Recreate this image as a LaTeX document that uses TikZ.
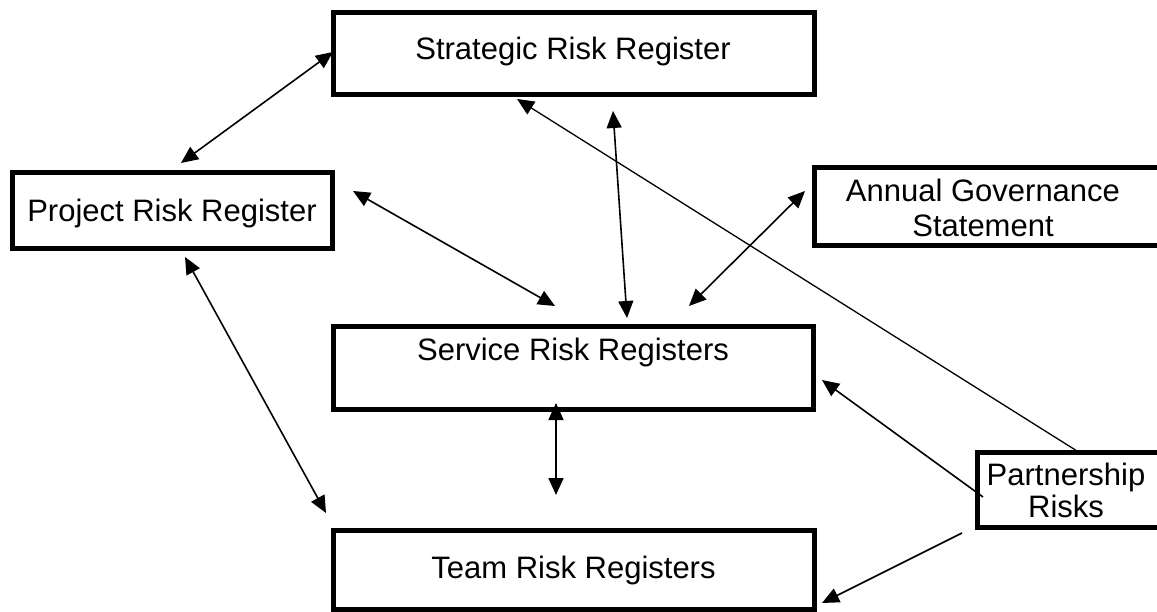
\documentclass[tikz,border=0pt]{standalone}
\usepackage{fontspec}
\setmainfont{Liberation Sans}
\usetikzlibrary{arrows.meta}
\begin{document}
\begin{tikzpicture}[x=1pt,y=-1pt,
  regbox/.style={draw=black,line width=5pt,rectangle,inner sep=0pt,fill=none},
  lbl/.style={anchor=base,inner sep=0pt,font=\fontsize{31}{36}\selectfont},
  conn/.style={line width=1.6pt,draw=black},
  tipA/.style={-{Triangle[length=17pt,width=15pt]}},
  tipB/.style={{Triangle[length=17pt,width=15pt]}-{Triangle[length=17pt,width=15pt]}}]
\useasboundingbox (0,0) rectangle (1157,612);
\fill[white] (0,0) rectangle (1157,612);

% boxes
\node[regbox,minimum width=480.5pt,minimum height=82pt] (strat) at (573.75,53.5) {};
\node[regbox,minimum width=320pt,minimum height=76pt] (proj) at (172.5,210.5) {};
\node[regbox,minimum width=350pt,minimum height=78.5pt] (annual) at (989.5,206.75) {};
\node[regbox,minimum width=480pt,minimum height=83pt] (serv) at (573.5,368) {};
\node[regbox,minimum width=481.5pt,minimum height=79.5pt] (team) at (573.75,569.75) {};
\node[regbox,minimum width=187pt,minimum height=75pt] (part) at (1071,490) {};

% texts
\node[lbl] (stratT) at (573,60) {Strategic Risk Register};
\node[lbl] (projT) at (172,222) {Project Risk Register};
\node[lbl] (annualT1) at (983,202) {Annual Governance};
\node[lbl] (annualT2) at (983,237) {Statement};
\node[lbl] (servT) at (573,360) {Service Risk Registers};
\node[lbl] (teamT) at (573.5,578) {Team Risk Registers};
\node[lbl] (partT1) at (1066,485) {Partnership};
\node[lbl] (partT2) at (1066,517) {Risks};

% connector end points
\coordinate (sp1) at (333,52);
\coordinate (sp2) at (181,163);
\coordinate (pst1) at (1077,451);
\coordinate (pst2) at (517,99);
\coordinate (ss1) at (613,111);
\coordinate (ss2) at (627,318);
\coordinate (ps1) at (353,191);
\coordinate (ps2) at (555,306);
\coordinate (as1) at (805,191);
\coordinate (as2) at (689,306);
\coordinate (pt1) at (185,257);
\coordinate (pt2) at (326,513);
\coordinate (st1) at (556,403);
\coordinate (st2) at (556,495);
\coordinate (pse1) at (983,497);
\coordinate (pse2) at (822,380);
\coordinate (pte1) at (962,533);
\coordinate (pte2) at (822,603);

% connectors
\draw[conn,tipB] (sp1) -- (sp2);
\draw[conn,tipA,line width=1.3pt] (pst1) -- (pst2);
\draw[conn,tipB] (ss1) -- (ss2);
\draw[conn,tipB] (ps1) -- (ps2);
\draw[conn,tipB] (as1) -- (as2);
\draw[conn,tipB] (pt1) -- (pt2);
\draw[conn,tipB] (st1) -- (st2);
\draw[conn,tipA] (pse1) -- (pse2);
\draw[conn,tipA] (pte1) -- (pte2);
\end{tikzpicture}
\end{document}
